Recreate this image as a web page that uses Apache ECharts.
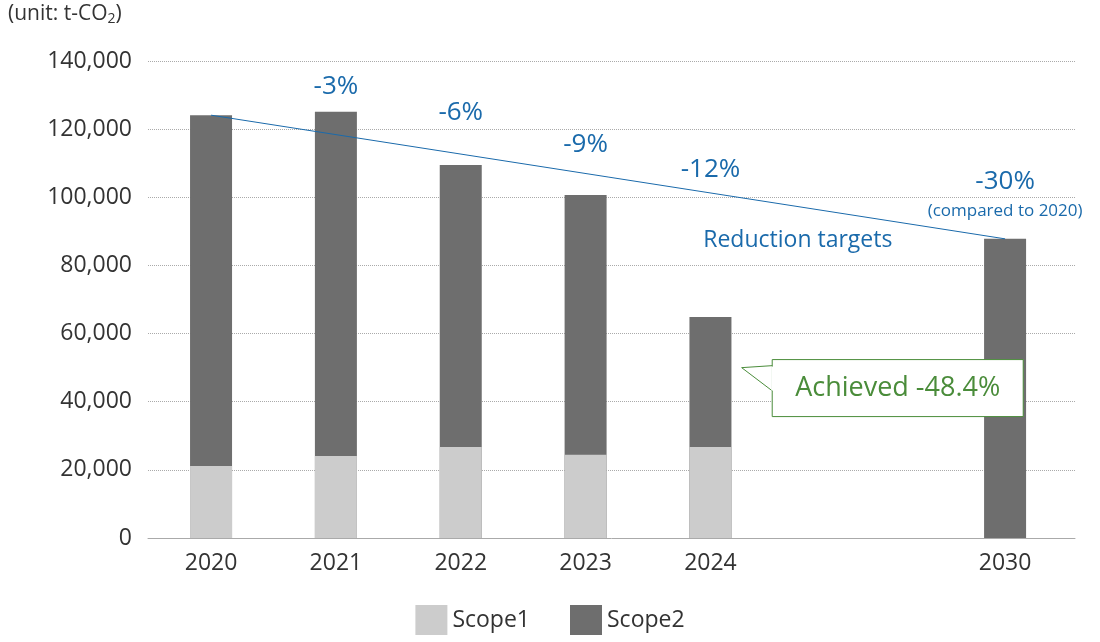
<!DOCTYPE html>
<html>
<head>
<meta charset="utf-8">
<script src="https://cdn.jsdelivr.net/npm/echarts@6/dist/echarts.min.js"></script>
<style>body{margin:0}#chart{width:1100px;height:642px}</style>
</head>
<body>
<div id="chart"></div>
<script>
// years and where they sit on the x scale (2030 sits further right)
const years = ['2020', '2021', '2022', '2023', '2024', '2030'];
const yearPos = [0, 1, 2, 3, 4, 6.36];
const scope1 = [21100, 24100, 26700, 24400, 26700, 0];
const scope2 = [103000, 101000, 82800, 76300, 38200, 87800];
const targetLine = [124100, 87800]; // 2020 -> 2030
const targetLabels = ['-3%', '-6%', '-9%', '-12%', '-30%'];
const targetLabelPos = [[1, 132400], [2, 124800], [3, 115400], [4, 108000], [6.36, 104500]];

const font = '"Open Sans", sans-serif';
const blue = '#1a6aab';
const green = '#4a8c3a';

let chart = echarts.init(document.getElementById('chart'));

// value x axis can't stack, so the dark bar is drawn as the total behind scope1
const totals = scope1.map((v, i) => v + scope2[i]);

let option = {
    textStyle: { fontFamily: font },
    grid: { left: 148, right: 25, top: 61, bottom: 104 },
    legend: {
        bottom: 2,
        left: 'center',
        icon: 'rect',
        itemWidth: 32,
        itemHeight: 30,
        itemGap: 40,
        textStyle: { fontSize: 23, color: '#333', fontFamily: font },
        data: ['Scope1', 'Scope2']
    },
    xAxis: {
        type: 'value',
        min: -0.505,
        max: 6.92,
        axisLine: { show: true, lineStyle: { color: '#aaa' } },
        axisTick: { show: false },
        axisLabel: { show: false },
        splitLine: { show: false }
    },
    yAxis: {
        type: 'value',
        min: 0,
        max: 140000,
        interval: 20000,
        axisLine: { show: false },
        axisTick: { show: false },
        axisLabel: {
            fontSize: 23, color: '#333', margin: 16,
            formatter: v => v.toLocaleString('en-US')
        },
        splitLine: { lineStyle: { type: 'dotted', color: '#aaa' } }
    },
    series: [{
        name: 'Scope2',
        type: 'bar',
        barWidth: 42,
        barGap: '-100%',
        color: '#6e6e6e',
        data: yearPos.map((x, i) => [x, totals[i]])
    }, {
        name: 'Scope1',
        type: 'bar',
        barWidth: 42,
        barGap: '-100%',
        color: '#cccccc',
        z: 3,
        data: yearPos.map((x, i) => [x, scope1[i]])
    }, {
        // reduction target line
        type: 'line',
        symbol: 'none',
        lineStyle: { color: blue, width: 1 },
        data: [[yearPos[0], targetLine[0]], [yearPos[5], targetLine[1]]],
        z: 5
    }, {
        // year labels under the bars
        type: 'scatter',
        symbolSize: 0,
        silent: true,
        itemStyle: { opacity: 1 },
        data: yearPos.map((x, i) => ({ value: [x, 0], name: years[i] })),
        label: {
            show: true, position: 'bottom', distance: 14,
            formatter: '{b}', fontSize: 23, color: '#333', fontFamily: font
        }
    }, {
        // target percentages
        type: 'scatter',
        symbolSize: 0,
        silent: true,
        itemStyle: { opacity: 1 },
        data: targetLabelPos.map((p, i) => ({ value: p, name: targetLabels[i] })),
        label: {
            show: true, position: 'inside',
            formatter: '{b}', fontSize: 26, color: blue, fontFamily: font
        }
    }, {
        type: 'scatter',
        symbolSize: 0,
        silent: true,
        itemStyle: { opacity: 1 },
        data: [
            { value: [6.36, 96000], name: '(compared to 2020)', label: { fontSize: 17 } },
            { value: [4.7, 87200], name: 'Reduction targets', label: { fontSize: 23 } }
        ],
        label: { show: true, position: 'inside', formatter: '{b}', color: blue, fontFamily: font }
    }]
};

chart.setOption(option);

// unit note and the "Achieved" callout
const box = chart.convertToPixel({ gridIndex: 0 }, [5.5, 44000]);
const tip = chart.convertToPixel({ gridIndex: 0 }, [4.25, 50000]);
const bw = 251, bh = 57;
const bx = box[0] - bw / 2, by = box[1] - bh / 2;

chart.setOption({
    graphic: [{
        type: 'text',
        left: 8, top: 4,
        style: {
            text: '(unit: t-CO{s|2})',
            rich: { s: { fontSize: 14, padding: [10, 0, 0, 0], fill: '#333', fontFamily: font } },
            fontSize: 21, fill: '#333', fontFamily: font
        }
    }, {
        type: 'polygon',
        z: 100,
        shape: { points: [[tip[0], tip[1]], [bx + 1, by + 6], [bx + 1, by + 32]] },
        style: { fill: '#fff', stroke: green, lineWidth: 1 }
    }, {
        type: 'rect',
        z: 101,
        shape: { x: bx, y: by, width: bw, height: bh },
        style: { fill: '#fff', stroke: green, lineWidth: 1 }
    }, {
        type: 'rect',
        z: 102,
        shape: { x: bx - 1, y: by + 7, width: 3, height: 24 },
        style: { fill: '#fff' }
    }, {
        type: 'text',
        z: 103,
        x: bx + bw / 2, y: by + bh / 2,
        style: {
            text: 'Achieved -48.4%', fontSize: 27, fill: green, fontFamily: font,
            align: 'center', verticalAlign: 'middle'
        }
    }]
});

window.addEventListener('resize', function() {
    chart.resize();
});
</script>
</body>
</html>
